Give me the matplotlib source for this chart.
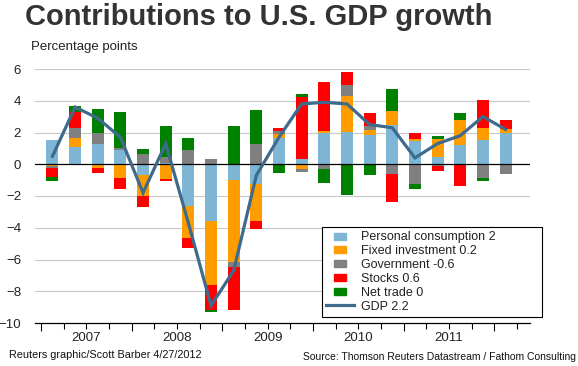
import numpy as np
import matplotlib
matplotlib.use("Agg")
import matplotlib.pyplot as plt
from matplotlib.patches import Rectangle, Patch
from matplotlib.lines import Line2D
from matplotlib.legend_handler import HandlerPatch

plt.rcParams['font.family'] = ['Liberation Sans', 'DejaVu Sans']

# quarterly contributions, 2007Q1 .. 2012Q1
quarters = ['2007Q1', '2007Q2', '2007Q3', '2007Q4', '2008Q1', '2008Q2', '2008Q3', '2008Q4',
            '2009Q1', '2009Q2', '2009Q3', '2009Q4', '2010Q1', '2010Q2', '2010Q3', '2010Q4',
            '2011Q1', '2011Q2', '2011Q3', '2011Q4', '2012Q1']
years = ['2007', '2008', '2009', '2010', '2011']

consumption = [1.54, 1.09, 1.26, 0.90, -0.69, 0.05, -2.63, -3.58, -1.01, -1.26, 1.68,
               0.36, 1.96, 2.04, 1.85, 2.50, 1.47, 0.48, 1.20, 1.52, 2.0]
investment = [-0.10, 0.59, -0.21, -0.84, -1.31, -0.95, -2.04, -4.04, -5.14, -2.32, 0.21,
              -0.32, 0.15, 2.23, 0.32, 0.86, 0.15, 1.09, 1.58, 0.76, 0.2]
government = [-0.15, 0.63, 0.69, 0.15, 0.63, 0.38, 0.91, 0.36, -0.32, 1.26, 0.21,
              -0.15, -0.27, 0.72, 0.25, -0.59, -1.26, -0.10, 0.0, -0.86, -0.6]
stocks = [-0.53, 0.95, -0.32, -0.74, -0.69, -0.08, -0.63, -1.54, -2.69, -0.53, 0.21,
          3.85, 3.09, 0.80, 0.80, -1.77, 0.34, -0.35, -1.37, 1.79, 0.6]
net_trade = [-0.25, 0.38, 1.56, 2.27, 0.36, 1.98, 0.72, -0.15, 2.42, 2.17, -0.57,
             0.21, -0.93, -1.96, -0.67, 1.41, -0.32, 0.21, 0.42, -0.21, 0.0]
gdp = [0.5, 3.6, 2.9, 1.7, -1.8, 1.3, -3.7, -8.9, -6.7, -0.7, 1.7,
       3.8, 3.9, 3.8, 2.5, 2.3, 0.4, 1.3, 1.8, 3.0, 2.2]

labels = ['Personal consumption 2', 'Fixed investment 0.2', 'Government -0.6',
          'Stocks 0.6', 'Net trade 0']
colors = ['#7eb6d6', '#ff9c00', '#808080', '#ff0000', '#008000']
series = [consumption, investment, government, stocks, net_trade]

W, H = 578, 366
fig = plt.figure(figsize=(W / 100, H / 100), dpi=100)
ax = fig.add_axes([35 / W, 1 - 323 / H, (530 - 35) / W, (323 - 69) / H])

x = np.arange(len(quarters))
pos_base = np.zeros(len(x))
neg_base = np.zeros(len(x))
for vals, c in zip(series, colors):
    v = np.array(vals)
    p = np.where(v > 0, v, 0)
    n = np.where(v < 0, v, 0)
    ax.bar(x, p, 0.53, bottom=pos_base, color=c, zorder=2)
    ax.bar(x, n, 0.53, bottom=neg_base, color=c, zorder=2)
    pos_base += p
    neg_base += n

ax.plot(x, gdp, color='#3e6a8c', lw=2.3, zorder=3, solid_joinstyle='miter')

ax.set_xlim(-0.77, 21.08)
ax.set_ylim(-10, 6)
for yv in range(-8, 7, 2):
    if yv != 0:
        ax.axhline(yv, color='#c8c8c8', lw=0.8, zorder=1)
ax.axhline(0, color='black', lw=0.9, zorder=2.5)

for s in ['left', 'right', 'top']:
    ax.spines[s].set_visible(False)
ax.spines['bottom'].set_linewidth(0.9)
ax.set_yticks(range(-10, 7, 2))
ax.tick_params(axis='y', length=0, pad=10, labelsize=9.5, labelcolor='#222222')
ax.set_xticks(np.arange(-0.5, 21, 4))
ax.set_xticks(np.arange(-0.5, 21, 1), minor=True)
ax.set_xticklabels([])
ax.tick_params(axis='x', which='major', length=6, direction='out', width=0.8)
ax.tick_params(axis='x', which='minor', length=4, direction='out', width=0.8)
for i, yr in enumerate(years):
    ax.text(1.5 + 4 * i, -10.95, yr, ha='center', va='center', fontsize=9.5, color='#222222')

fig.text(25 / W, 1 - 17 / H, 'Contributions to U.S. GDP growth', fontsize=21,
         fontweight='bold', color='#333333', va='center', ha='left')
fig.text(31 / W, 1 - 47 / H, 'Percentage points', fontsize=9.5, color='#222222',
         va='center', ha='left')
fig.text(9 / W, 1 - 355 / H, 'Reuters graphic/Scott Barber 4/27/2012', fontsize=7.8,
         color='#111111', va='center', ha='left')
fig.text(576 / W, 1 - 357 / H, 'Source: Thomson Reuters Datastream / Fathom Consulting',
         fontsize=7.5, color='#111111', va='center', ha='right')


def small_square(legend, orig_handle, xdescent, ydescent, width, height, fontsize):
    w = height * 1.3
    return Rectangle((-xdescent + (width - w) / 2, -ydescent + height * 0.1), w, height * 0.8)


handles = [Patch(color=c) for c in colors]
handles.append(Line2D([], [], color='#3e6a8c', lw=2.3))
leg = fig.legend(handles, labels + ['GDP 2.2'], loc='upper left', mode='expand',
                 bbox_to_anchor=(322 / W, 1 - 317 / H, 220 / W, 90 / H),
                 borderaxespad=0, fontsize=9, frameon=True,
                 fancybox=False, framealpha=1, edgecolor='black', borderpad=0.35,
                 labelspacing=0.15, handlelength=2.2, handletextpad=0.6,
                 handler_map={Patch: HandlerPatch(patch_func=small_square)})
leg.get_frame().set_linewidth(0.8)
for t in leg.get_texts():
    t.set_color('#222222')
leg.set_zorder(5)

fig.savefig('out.png', dpi=100)
